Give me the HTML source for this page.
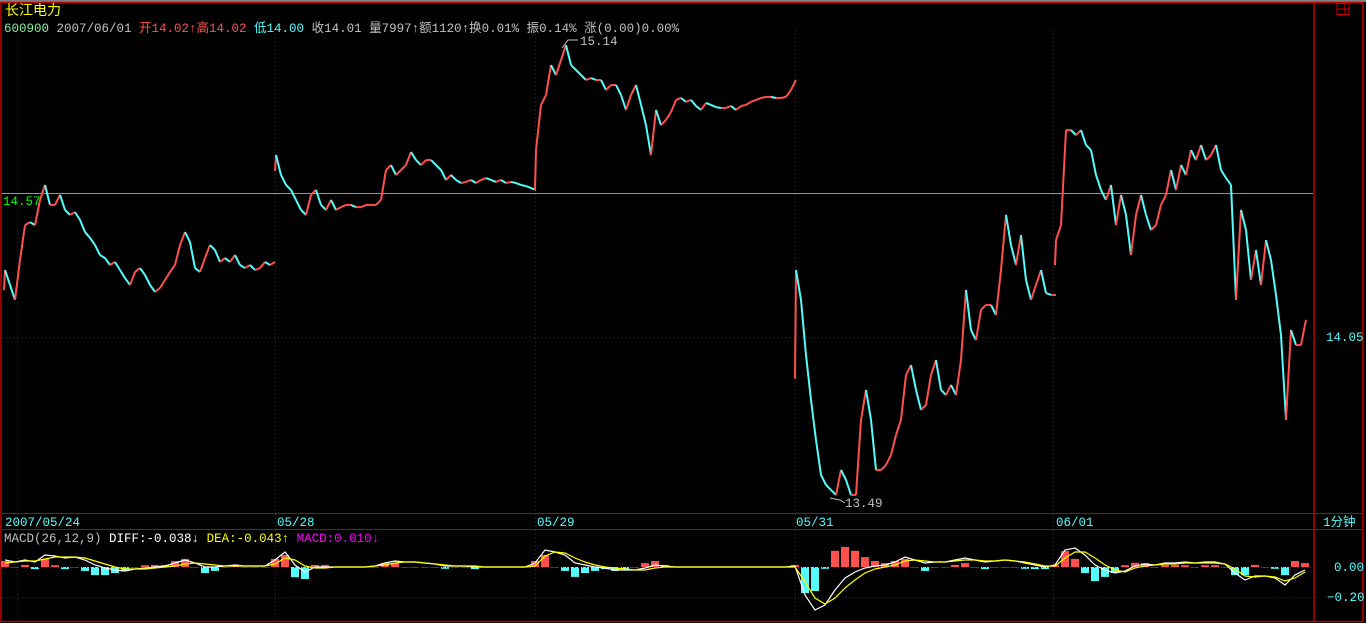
<!DOCTYPE html>
<html><head><meta charset="utf-8">
<style>
html,body{margin:0;padding:0;background:#000;width:1366px;height:623px;overflow:hidden}
svg{display:block}
text{font-family:"Liberation Mono","WenQuanYi Zen Hei","Noto Sans CJK SC",monospace;font-size:12.5px}
</style></head>
<body>
<svg id="chart" width="1366" height="623" viewBox="0 0 1366 623" xmlns="http://www.w3.org/2000/svg">
<rect x="0" y="0" width="1366" height="623" fill="#000"/>
<rect x="0" y="0" width="1366" height="2" fill="#808080"/>
<rect x="1" y="2.5" width="1362" height="619" fill="none" stroke="#c00000" stroke-width="1.5"/>
<line x1="1314" y1="2" x2="1314" y2="622" stroke="#c00000" stroke-width="1.5"/>
<line x1="2" y1="513.5" x2="1363" y2="513.5" stroke="#c00000"/>
<line x1="2" y1="529.5" x2="1363" y2="529.5" stroke="#c00000"/>
<rect x="1337" y="3.5" width="12" height="11" fill="none" stroke="#d00000"/>
<line x1="1337" y1="9" x2="1349" y2="9" stroke="#d00000"/>
<line x1="1345" y1="3.5" x2="1345" y2="14.5" stroke="#d00000"/>
<g id="grid"></g>
<line x1="2" y1="193.5" x2="1313" y2="193.5" stroke="#00ff00" stroke-width="1"/>
<g id="price"></g>
<g id="macd"></g>
<text x="5" y="15" fill="#ffff00" style="font-size:14px">长江电力</text>
<text x="4" y="32"><tspan fill="#7ff2a0">600900</tspan><tspan fill="#c0c0c0"> 2007/06/01 </tspan><tspan fill="#ff5050">开14.02↑高14.02 </tspan><tspan fill="#54fcfc">低14.00 </tspan><tspan fill="#c0c0c0">收14.01 量7997↑额1120↑换0.01% 振0.14% 涨(0.00)0.00%</tspan></text>
<polyline points="562,48 568,40 578,40" fill="none" stroke="#c0c0c0"/>
<text x="580" y="45" fill="#c0c0c0">15.14</text>
<polyline points="830,498 840,500 845,503" fill="none" stroke="#c0c0c0"/>
<text x="845" y="507" fill="#c0c0c0">13.49</text>
<text x="3" y="205" fill="#00ff00">14.57</text>
<text x="1326" y="341" fill="#54fcfc">14.05</text>
<text x="1323" y="526" fill="#54fcfc">1分钟</text>
<text x="1334" y="571" fill="#54fcfc">0.00</text>
<text x="1327" y="601" fill="#54fcfc">−0.20</text>
<text x="5" y="526" fill="#54fcfc">2007/05/24</text>
<text x="277" y="526" fill="#54fcfc">05/28</text>
<text x="537" y="526" fill="#54fcfc">05/29</text>
<text x="796" y="526" fill="#54fcfc">05/31</text>
<text x="1056" y="526" fill="#54fcfc">06/01</text>
<text x="4" y="542"><tspan fill="#c0c0c0">MACD(26,12,9) </tspan><tspan fill="#ffffff">DIFF:-0.038↓ </tspan><tspan fill="#ffff00">DEA:-0.043↑ </tspan><tspan fill="#ff00ff">MACD:0.010↓</tspan></text>
</svg>
<script>
const day1=[14.292,14.238,14.184,14.328,14.454,14.465,14.454,14.545,14.599,14.527,14.527,14.563,14.509,14.491,14.501,14.473,14.429,14.408,14.382,14.346,14.335,14.310,14.321,14.292,14.263,14.238,14.285,14.299,14.274,14.238,14.213,14.227,14.256,14.285,14.310,14.382,14.429,14.393,14.299,14.285,14.335,14.382,14.364,14.321,14.335,14.321,14.346,14.310,14.299,14.310,14.292,14.299,14.321,14.310,14.321];
const day2=[14.707,14.635,14.599,14.581,14.545,14.509,14.491,14.563,14.581,14.527,14.509,14.545,14.509,14.519,14.527,14.527,14.519,14.519,14.527,14.527,14.527,14.545,14.653,14.671,14.635,14.653,14.671,14.718,14.689,14.671,14.689,14.689,14.671,14.653,14.617,14.635,14.617,14.606,14.610,14.617,14.606,14.617,14.624,14.617,14.610,14.617,14.606,14.610,14.606,14.599,14.595,14.588,14.581];
const day3=[14.725,14.888,14.924,15.032,14.996,15.050,15.104,15.032,15.014,14.996,14.978,14.985,14.978,14.978,14.942,14.960,14.960,14.924,14.870,14.924,14.960,14.888,14.815,14.707,14.870,14.815,14.834,14.862,14.906,14.913,14.899,14.906,14.884,14.870,14.895,14.888,14.880,14.877,14.877,14.884,14.870,14.884,14.888,14.899,14.906,14.913,14.917,14.917,14.913,14.913,14.917,14.942,14.978];
const day4=[14.292,14.184,13.985,13.823,13.678,13.552,13.516,13.498,13.480,13.570,13.534,13.480,13.480,13.751,13.859,13.751,13.570,13.570,13.588,13.624,13.696,13.751,13.913,13.949,13.859,13.787,13.805,13.913,13.967,13.859,13.841,13.877,13.841,13.967,14.220,14.075,14.039,14.148,14.166,14.166,14.130,14.292,14.491,14.382,14.310,14.418,14.256,14.184,14.238,14.292,14.209,14.202,14.202];
const day5=[14.400,14.454,14.797,14.797,14.779,14.797,14.743,14.725,14.635,14.581,14.545,14.599,14.454,14.563,14.491,14.346,14.491,14.563,14.491,14.436,14.454,14.527,14.563,14.653,14.581,14.671,14.635,14.725,14.689,14.743,14.689,14.707,14.743,14.653,14.624,14.599,14.184,14.509,14.436,14.256,14.364,14.238,14.400,14.328,14.202,14.057,13.751,14.075,14.021,14.021,14.112];
const dayOpens=[14.22,14.65,14.58,13.90,14.31];
const dateLabels=["2007/05/24","05/28","05/29","05/31","06/01"];
const diffMilli=[47,33,47,33,80,73,60,67,47,13,-7,-20,-27,-13,-7,0,7,27,47,27,0,0,7,13,7,7,7,47,
100,13,-33,0,0,0,0,0,0,7,27,40,33,33,27,20,7,7,7,0,0,0,0,0,0,27,
113,100,80,27,13,0,-7,-20,-20,-20,-7,13,7,0,0,0,0,0,0,0,0,0,0,0,0,7,
-187,-287,-253,-153,-73,-33,-7,7,13,33,67,47,27,33,33,47,60,47,33,40,47,40,27,13,0,13,
113,127,80,13,-20,-40,-27,7,20,13,27,27,33,27,33,33,20,-40,-87,-60,-60,-73,-120,-53,-20];
const deaMilli=[27,33,40,40,53,67,67,67,60,40,20,0,-13,-13,-13,-7,0,7,20,27,20,13,7,7,7,7,7,20,
60,47,7,-7,-7,0,0,0,0,7,13,27,33,33,27,20,13,7,7,7,0,0,0,0,0,7,
73,100,93,60,33,13,0,-7,-13,-20,-20,-7,0,0,0,0,0,0,0,0,0,0,0,0,0,0,
-100,-207,-247,-207,-140,-87,-40,-13,0,13,40,47,40,33,33,40,47,47,40,40,47,40,33,20,7,7,
60,100,100,60,13,-20,-33,-7,7,13,20,20,27,27,27,27,20,-13,-60,-67,-60,-67,-93,-73,-33];

const NS="http://www.w3.org/2000/svg";
const days=[day1,day2,day3,day4,day5];
function yPrice(p){return 193+(14.57-p)*277;}
function xPrice(d,i){return (d===0?5:276+(d-1)*260)+i*5;}
function yMacd(v){return 567-v*150;}
function xMacd(j){return 5+j*10;}
function mk(tag,attrs,parent){const e=document.createElementNS(NS,tag);for(const k in attrs)e.setAttribute(k,attrs[k]);parent.appendChild(e);return e;}

const grid=document.getElementById('grid');
[17,275,535,795,1053].forEach(x=>{
  const l=mk('line',{x1:x+0.5,y1:30,x2:x+0.5,y2:621,stroke:'#b00000','stroke-dasharray':'1,3'},grid);
  
  
});
const g1=mk('line',{x1:2,y1:337.5,x2:1320,y2:337.5,stroke:'#b00000','stroke-dasharray':'1,3'},grid);


const g2=mk('line',{x1:2,y1:597.5,x2:1320,y2:597.5,stroke:'#b00000','stroke-dasharray':'1,3'},grid);



const pg=document.getElementById('price');
days.forEach((arr,d)=>{
  let prev=dayOpens[d];
  let px=xPrice(d,0)-1;
  arr.forEach((c,i)=>{
    const x=xPrice(d,i);
    const up=c>=prev;
    const col=up?'#ff5050':'#54fcfc';
    const s=mk('line',{x1:px,y1:yPrice(prev),x2:x,y2:yPrice(c),stroke:col,'stroke-width':2},pg);
    
    
    prev=c;px=x;
  });
});

const mg=document.getElementById('macd');
diffMilli.forEach((dv,j)=>{
  const h=2*(dv-deaMilli[j])/1000;
  const x=xMacd(j);
  const y0=yMacd(0),y1=yMacd(h);
  const b=mk('rect',{x:x-4,y:Math.min(y0,y1),width:8,height:Math.max(0.5,Math.abs(y1-y0)),fill:h>=0?'#ff5050':'#54fcfc'},mg);
  
  
});
const zl=mk('line',{x1:2,y1:567.5,x2:1313,y2:567.5,stroke:'#c00000','stroke-dasharray':'1,3'},mg);


const diffPts=diffMilli.map((v,j)=>xMacd(j)+','+yMacd(v/1000).toFixed(1)).join(' ');
const deaPts=deaMilli.map((v,j)=>xMacd(j)+','+yMacd(v/1000).toFixed(1)).join(' ');
const dl=mk('polyline',{points:diffPts,fill:'none',stroke:'#ffffff','stroke-width':1.2},mg);


const el=mk('polyline',{points:deaPts,fill:'none',stroke:'#ffff00','stroke-width':1.2},mg);


</script>
</body></html>
